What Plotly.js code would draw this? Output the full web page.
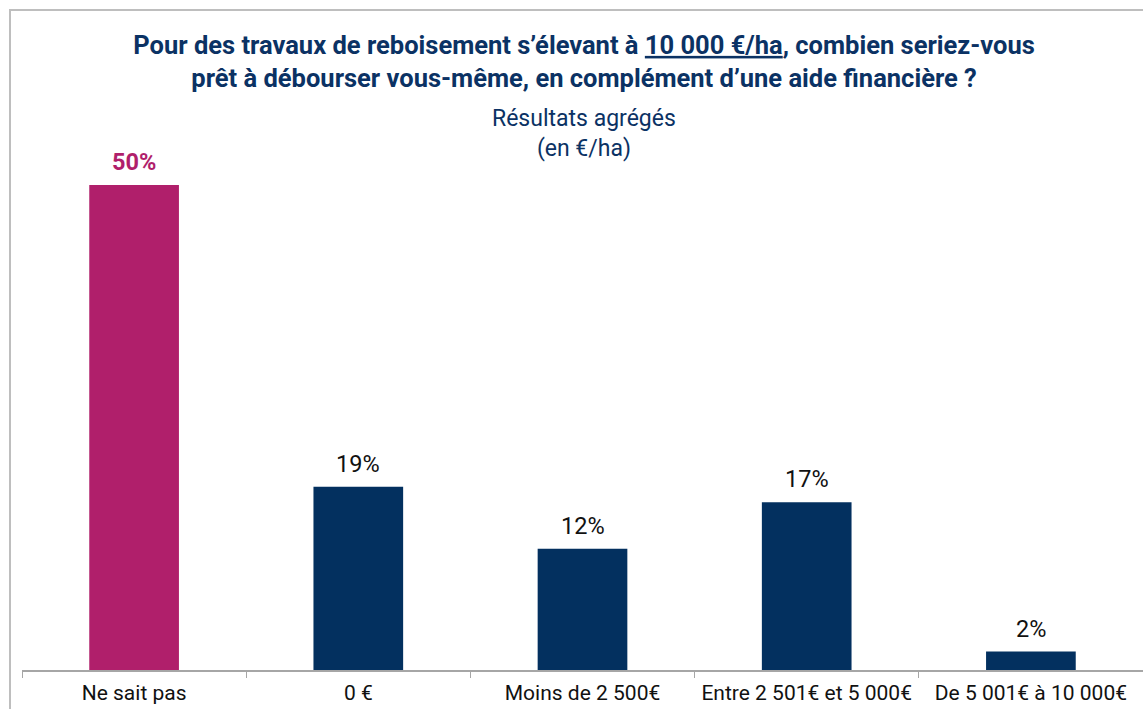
<!DOCTYPE html>
<html>
<head>
<meta charset="utf-8">
<script src="https://cdn.plot.ly/plotly-3.0.1.min.js"></script>
<style>
  html, body { margin: 0; padding: 0; background: #fff; }
  #wrap { position: relative; width: 1143px; height: 709px; overflow: hidden; }
  #frame { position: absolute; left: 9px; top: 9px; width: 1200px; height: 800px;
           border-top: 2px solid #BEBEBE; border-left: 2px solid #BEBEBE; box-sizing: border-box; }
  #chart { position: absolute; left: 0; top: 0; width: 1143px; height: 709px; }
</style>
</head>
<body>
<div id="wrap">
  <div id="frame"></div>
  <div id="chart"></div>
</div>
<script>
const categories = ["Ne sait pas", "0 €", "Moins de 2 500€", "Entre 2 501€ et 5 000€", "De 5 001€ à 10 000€"];
const values = [50, 18.9, 12.5, 17.3, 1.9];
const valueLabels = ["50%", "19%", "12%", "17%", "2%"];
const barColors = ["#B01F6B", "#03305F", "#03305F", "#03305F", "#03305F"];
const labelColors = ["#B01F6B", "#111111", "#111111", "#111111", "#111111"];
const labelBold = [true, false, false, false, false];

const titleText = "Pour des travaux de reboisement s’élevant à <u>10 000 €/ha</u>, combien seriez-vous<br>prêt à débourser vous-même, en complément d’une aide financière ?";
const subtitleText = "Résultats agrégés<br>(en €/ha)";

const trace = {
  type: "bar",
  x: categories,
  y: values,
  marker: { color: barColors, line: { width: 0 } },
  width: 0.4,
  hoverinfo: "x+y"
};

const annotations = categories.map((c, i) => ({
  x: c, y: values[i], xref: "x", yref: "y",
  text: labelBold[i] ? "<b>" + valueLabels[i] + "</b>" : valueLabels[i],
  showarrow: false, yanchor: "bottom", yshift: 7,
  font: { family: "Roboto, sans-serif", size: 23.5, color: labelColors[i] }
}));
annotations.push({
  text: subtitleText, xref: "paper", yref: "paper", x: 0.501, y: 1.031,
  xanchor: "center", yanchor: "middle", showarrow: false,
  font: { family: "Roboto, sans-serif", size: 23, color: "#0B3264" }
});

const layout = {
  width: 1143, height: 709,
  margin: { l: 22, r: 0, t: 150, b: 39 },
  paper_bgcolor: "rgba(0,0,0,0)",
  plot_bgcolor: "rgba(0,0,0,0)",
  showlegend: false,
  title: {
    text: titleText,
    xref: "container", x: 0.511, xanchor: "center",
    yref: "container", y: 0.924, yanchor: "top",
    font: { family: "Roboto, sans-serif", size: 25.5, color: "#0B3264", weight: "bold" }
  },
  xaxis: {
    type: "category",
    showline: true, linecolor: "#A6A6A6", linewidth: 1.5,
    ticks: "outside", tickson: "boundaries", ticklen: 6, tickcolor: "#A6A6A6", tickwidth: 1,
    ticklabelstandoff: 3,
    showgrid: false, zeroline: false,
    tickfont: { family: "Roboto, sans-serif", size: 21, color: "#111111" },
    range: [-0.5, 4.5]
  },
  yaxis: {
    range: [0, 53.6], visible: false, showgrid: false, zeroline: false
  },
  annotations: annotations
};

Plotly.newPlot("chart", [trace], layout, { displayModeBar: false, staticPlot: true });
</script>
</body>
</html>
